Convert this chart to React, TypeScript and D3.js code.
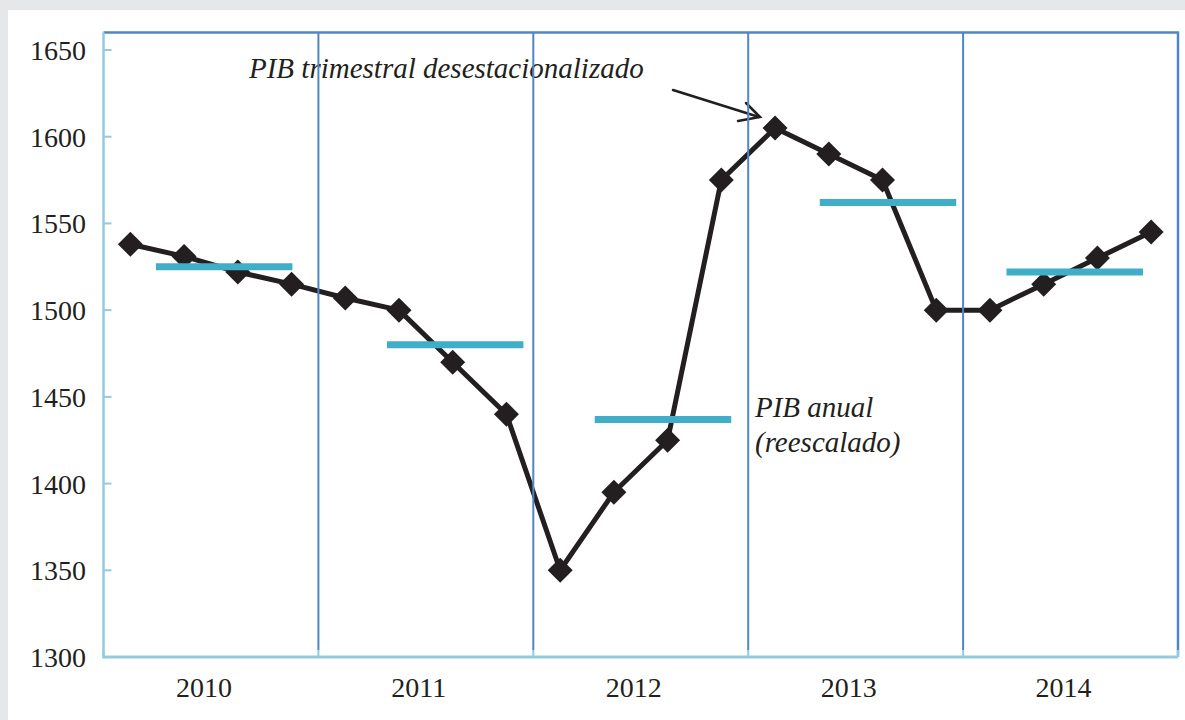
import React from "react";
import * as d3 from "d3";

const years = ["2010", "2011", "2012", "2013", "2014"];
const quarterly = [1538, 1531, 1522, 1515, 1507, 1500, 1470, 1440, 1350, 1395, 1425, 1575, 1605, 1590, 1575, 1500, 1500, 1515, 1530, 1545];
const annual = [1525, 1480, 1437, 1562, 1522];
const yTicks = [1300, 1350, 1400, 1450, 1500, 1550, 1600, 1650];
const quarterLabel = "PIB trimestral desestacionalizado";
const annualLabel = ["PIB anual", "(reescalado)"];

// layout (fraction of a year where each annual bar starts; bar length as fraction of a year)
const barStart = [0.244, 0.319, 0.286, 0.333, 0.202];
const barLen = 0.635;

const W = 1185, H = 720;
const L = 103.5, R = 1178, T = 32.5, B = 657;

export default function App() {
  const x = d3.scaleLinear().domain([0, years.length]).range([L, R]);
  const y = d3.scaleLinear().domain([1300, 1650]).range([B, 50]);
  const line = d3.line<number>().x((_, i) => x((i + 0.5) / 4)).y((d) => y(d));
  const serif = "'Liberation Serif', 'Times New Roman', serif";
  const dk = 12.5;
  const black = "#231f20";
  const dark = "#4f86c6";
  const light = "#93cbde";
  return (
    <div style={{ position: "fixed", left: 0, top: 0 }}>
      <svg width={W} height={H} style={{ display: "block" }}>
        <rect x={0} y={0} width={W} height={H} fill="#e6e7e8" />
        <rect x={8} y={10} width={W - 8} height={H - 10} fill="#ffffff" />
        {/* top and right border */}
        <path d={`M${L},${T}H${R}V${B}`} fill="none" stroke={dark} strokeWidth={2.5} />
        {/* y ticks */}
        {yTicks.map((t) => (
          <g key={t}>
            <line x1={L} x2={L + 8} y1={y(t)} y2={y(t)} stroke={light} strokeWidth={2} />
            <text x={86} y={y(t) + 10} textAnchor="end" fontFamily={serif} fontSize={28} fill={black}>{t}</text>
          </g>
        ))}
        {/* year labels */}
        {years.map((yr, i) => (
          <text key={yr} x={x(i + 0.5) - 7} y={697} textAnchor="middle" fontFamily={serif} fontSize={28} fill={black}>{yr}</text>
        ))}
        {/* annotations */}
        <text x={249} y={78} fontFamily={serif} fontStyle="italic" fontSize={29} fill={black}>{quarterLabel}</text>
        <text x={755} y={417} fontFamily={serif} fontStyle="italic" fontSize={29} fill={black}>{annualLabel[0]}</text>
        <text x={755} y={452} fontFamily={serif} fontStyle="italic" fontSize={29} fill={black}>{annualLabel[1]}</text>
        <g stroke={black} strokeWidth={2.5} fill="none" strokeLinecap="round">
          <line x1={673} y1={90} x2={759} y2={117} />
          <polyline points="746,103 760,117 738,121" />
        </g>
        {/* quarterly line */}
        <path d={line(quarterly) || ""} fill="none" stroke={black} strokeWidth={5} strokeLinejoin="round" />
        {quarterly.map((v, i) => {
          const cx = x((i + 0.5) / 4), cy = y(v);
          return <path key={i} d={`M${cx},${cy - dk}L${cx + dk},${cy}L${cx},${cy + dk}L${cx - dk},${cy}Z`} fill={black} />;
        })}
        {/* annual bars */}
        {annual.map((v, i) => (
          <line key={i} x1={x(i + barStart[i])} x2={x(i + barStart[i] + barLen)} y1={y(v)} y2={y(v)} stroke="#40aec8" strokeWidth={7} />
        ))}
        {/* separators */}
        {years.slice(1).map((_, i) => (
          <line key={i} x1={x(i + 1)} x2={x(i + 1)} y1={T} y2={B - 7} stroke={dark} strokeWidth={2} />
        ))}
        {/* x ticks */}
        {d3.range(years.length + 1).map((i) => (
          <line key={i} x1={x(i)} x2={x(i)} y1={B - 7} y2={B} stroke={light} strokeWidth={2} />
        ))}
        {/* axes */}
        <line x1={L} x2={L} y1={T} y2={B + 1.5} stroke={light} strokeWidth={2.5} />
        <line x1={L} x2={R} y1={B} y2={B} stroke={light} strokeWidth={3} />
      </svg>
    </div>
  );
}
